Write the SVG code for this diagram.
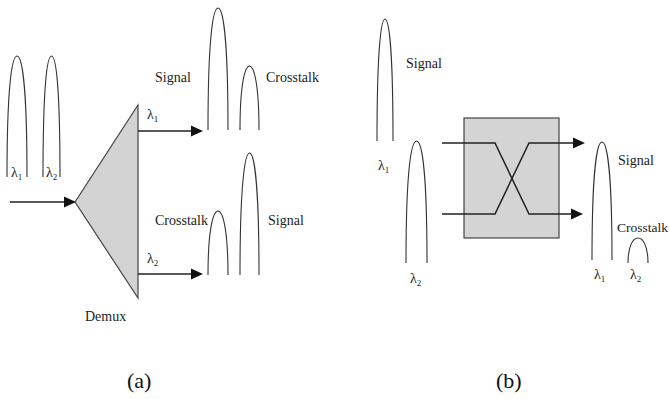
<svg xmlns="http://www.w3.org/2000/svg" width="669" height="399" viewBox="0 0 669 399">
<defs>
<style>
.p{fill:none;stroke:#333;stroke-width:1.1}
.ln{fill:none;stroke:#222;stroke-width:1.5}
.ah{fill:#111}
.t{font-family:'Liberation Serif',serif;font-size:14px;fill:#222}
.cap{font-size:22px;fill:#111}
.sub{font-size:9px}
</style>
</defs>
<rect width="669" height="399" fill="#fff"/>
<g class="t" font-family="Liberation Serif, serif">
<g id="part-a">
<g id="input-pulses">
<path class="p" d="M7,177 C7,86 12,56 17,56 C22,56 27,86 27,177"/>
<path class="p" d="M43,177 C43,86 47,56 51.5,56 C56,56 60,86 60,177"/>
<text x="11" y="177">λ<tspan class="sub" dy="3">1</tspan></text>
<text x="46" y="177">λ<tspan class="sub" dy="3">2</tspan></text>
</g>
<g id="demux">
<polygon points="75,202 138,105 138,298" fill="#d3d3d3" stroke="#444" stroke-width="1.2"/>
<text x="85" y="321">Demux</text>
</g>
<g id="out1">
<path class="p" d="M208,130 C208,38 213,8 218,8 C223,8 228,38 228,130"/>
<path class="p" d="M240,130 C240,84 245,66 249.5,66 C254,66 259,84 259,130"/>
<text x="155" y="82">Signal</text>
<text x="266" y="82">Crosstalk</text>
<text x="147" y="119">λ<tspan class="sub" dy="3">1</tspan></text>
</g>
<g id="out2">
<path class="p" d="M208,275 C208,230 213,211 218,211 C223,211 228,230 228,275"/>
<path class="p" d="M240,275 C240,183 245,153 249.5,153 C254,153 259,183 259,275"/>
<text x="155" y="225">Crosstalk</text>
<text x="268" y="225">Signal</text>
<text x="147" y="263">λ<tspan class="sub" dy="3">2</tspan></text>
</g>
<text class="cap" x="127" y="388">(a)</text>
</g>
<g id="part-b">
<g id="in-pulses-b">
<path class="p" d="M377,141 C377,50 381,19 385,19 C389,19 393,50 393,141"/>
<text x="406" y="68">Signal</text>
<text x="378" y="170">λ<tspan class="sub" dy="3">1</tspan></text>
<path class="p" d="M406,263 C406,172 411,141 416.5,141 C422,141 427,172 427,263"/>
<text x="410" y="283">λ<tspan class="sub" dy="3">2</tspan></text>
</g>
<g id="switch">
<rect x="464" y="118" width="95" height="120" fill="#d4d4d4" stroke="#444" stroke-width="1.2"/>
</g>
<g id="out-b">
<path class="p" d="M592,260 C592,172 597,142 602,142 C607,142 612,172 612,260"/>
<path class="p" d="M628,263 C628,246 633,238 638,238 C643,238 648,246 648,263"/>
<text x="618" y="165">Signal</text>
<text x="617" y="232" font-size="13.5">Crosstalk</text>
<text x="594" y="279">λ<tspan class="sub" dy="3">1</tspan></text>
<text x="630" y="279">λ<tspan class="sub" dy="3">2</tspan></text>
</g>
<text class="cap" x="496" y="388">(b)</text>
</g>
</g>
<g id="connectors">
<line class="ln" x1="10" y1="202" x2="66" y2="202"/>
<polygon class="ah" points="76,202 64,196.5 64,207.5"/>
<line class="ln" x1="138" y1="131" x2="192" y2="131"/>
<polygon class="ah" points="203,131 191,125.5 191,136.5"/>
<line class="ln" x1="138" y1="274" x2="192" y2="274"/>
<polygon class="ah" points="203,274 191,268.5 191,279.5"/>
<polyline class="ln" points="442,143 495,143 529,214 572,214" stroke-width="1.3"/>
<polygon class="ah" points="583,214 571,208.5 571,219.5"/>
<polyline class="ln" points="442,214 495,214 529,143 574,143" stroke-width="1.3"/>
<polygon class="ah" points="585,143 573,137.5 573,148.5"/>
</g>
</svg>
